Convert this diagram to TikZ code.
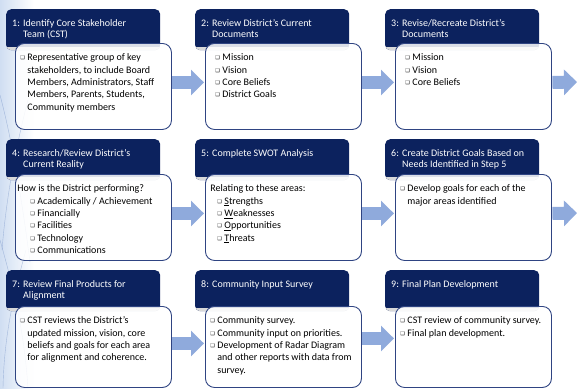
\documentclass[tikz,border=0pt]{standalone}
\usepackage{fontspec}
\setmainfont{Carlito}
\newfontfamily\symfont{DejaVu Sans}
\usetikzlibrary{arrows.meta}

\definecolor{navyhead}{RGB}{12,34,94}
\definecolor{boxline}{RGB}{47,68,130}
\definecolor{flowblue}{RGB}{143,170,220}
\definecolor{stripblue}{RGB}{208,222,242}
\definecolor{stripline}{RGB}{110,140,195}

\newcommand{\bx}{\raisebox{0.9pt}{\symfont\fontsize{5}{5}\selectfont ❑}}
\newcommand{\itm}{\par\noindent\hangindent=7pt\hangafter=1\makebox[7pt][l]{\bx}}
\newcommand{\stp}[1]{\par\noindent\color{white}\leftskip=11pt\hspace*{-11pt}\makebox[11pt][l]{#1}}

\tikzset{
  hdr/.style={anchor=north west, fill=navyhead, rounded corners=5pt,
    inner xsep=6pt, inner ysep=10.3pt, text height=7pt, text depth=13.4pt,
    font=\fontsize{10}{11}\selectfont,
    execute at begin node={\begin{minipage}[t]{142pt}\raggedright},
    execute at end node={\end{minipage}},
    path picture={\fill[gray!30, sharp corners] ([yshift=3pt]path picture bounding box.south west)
      rectangle (path picture bounding box.south east);}},
  body/.style={anchor=north west, draw=boxline, line width=0.9pt, fill=white,
    fill opacity=0.85, text opacity=1, rounded corners=9pt,
    inner xsep=5pt, inner ysep=10.4pt, text height=7pt, text depth=58.2pt,
    font=\fontsize{10}{12.3}\selectfont,
    execute at begin node={\begin{minipage}[t]{146pt}\raggedright},
    execute at end node={\end{minipage}}},
  flow/.style={draw=flowblue, line width=13pt, -{Triangle[length=13pt,width=25pt]},
    shorten >=1pt, shorten <=0.5pt}
}

\begin{document}
\begin{tikzpicture}[x=1pt,y=-1pt]
  \useasboundingbox (0,0) rectangle (577,388);
  \clip (0,0) rectangle (577,388);

  % pale strip on the left edge
  \shade[left color=stripblue, right color=white] (0,0) rectangle (34,388);
  \draw[stripline, line width=0.4pt, opacity=0.5] (0,95) .. controls (12,140) and (22,200) .. (30,262);
  \draw[stripline, line width=0.4pt, opacity=0.5] (28,100) .. controls (15,150) and (6,200) .. (2,250);
  \draw[stripline, line width=0.4pt, opacity=0.5] (0,240) .. controls (14,290) and (24,330) .. (28,388);
  \draw[stripline, line width=0.4pt, opacity=0.5] (26,250) .. controls (12,300) and (4,340) .. (3,388);

  % row 1
  \node[hdr] (h1) at (6,9) {\stp{1:}Identify Core Stakeholder\newline Team (CST)\par};
  \node[body] (b1) at (15,43) {\itm Representative group of key\newline stakeholders, to include Board\newline
    Members, Administrators, Staff\newline Members, Parents, Students,\newline Community members\par};
  \node[hdr] (h2) at (195,9) {\stp{2:}Review District’s Current\newline Documents\par};
  \node[body] (b2) at (205,43) {\leftskip=5pt \itm Mission \itm Vision \itm Core Beliefs \itm District Goals\par};
  \node[hdr] (h3) at (385,9) {\stp{3:}Revise/Recreate District’s\newline Documents\par};
  \node[body] (b3) at (395,43) {\leftskip=5pt \itm Mission \itm Vision \itm Core Beliefs\par};

  % row 2
  \node[hdr] (h4) at (6,139) {\stp{4:}Research/Review District’s\newline Current Reality\par};
  \node[body] (b4) at (15,174) {\noindent\hspace*{-3pt}How is the District performing?\par\leftskip=10pt
    \itm Academically / Achievement \itm Financially \itm Facilities \itm Technology \itm Communications\par};
  \node[hdr] (h5) at (195,139) {\stp{5:}Complete SWOT Analysis\par};
  \node[body] (b5) at (205,174) {\noindent Relating to these areas:\par\leftskip=7pt
    \itm \underline{S}trengths \itm \underline{W}eaknesses \itm \underline{O}pportunities \itm \underline{T}hreats\par};
  \node[hdr] (h6) at (385,139) {\stp{6:}\mbox{Create District Goals Based on}\newline Needs Identified in Step 5\par};
  \node[body] (b6) at (395,174) {\itm Develop goals for each of the\newline major areas identified\par};

  % row 3
  \node[hdr] (h7) at (6,270) {\stp{7:}Review Final Products for\newline Alignment\par};
  \node[body, text depth=53.2pt] (b7) at (15,306) {\itm CST reviews the District’s\newline updated mission, vision, core\newline
    beliefs and goals for each area\newline for alignment and coherence.\par};
  \node[hdr] (h8) at (195,270) {\stp{8:}Community Input Survey\par};
  \node[body, text depth=53.2pt] (b8) at (205,306) {\itm Community survey. \itm Community input on priorities.
    \itm Development of Radar Diagram\newline \mbox{and other reports with data from}\newline survey.\par};
  \node[hdr] (h9) at (385,270) {\stp{9:}Final Plan Development\par};
  \node[body, text depth=53.2pt] (b9) at (395,306) {\itm \mbox{CST review of community survey.} \itm Final plan development.\par};

  % arrows between the steps
  \coordinate (o3) at (578,82);
  \coordinate (o6) at (578,213);
  \draw[flow] ([yshift=4pt]b1.east) -- ([yshift=4pt]b2.west);
  \draw[flow] ([yshift=4pt]b2.east) -- ([yshift=4pt]b3.west);
  \draw[flow] ([yshift=4pt]b3.east) -- (o3);
  \draw[flow] ([yshift=4pt]b4.east) -- ([yshift=4pt]b5.west);
  \draw[flow] ([yshift=4pt]b5.east) -- ([yshift=4pt]b6.west);
  \draw[flow] ([yshift=4pt]b6.east) -- (o6);
  \draw[flow] ([yshift=3.5pt]b7.east) -- ([yshift=3.5pt]b8.west);
  \draw[flow] ([yshift=8.5pt]b8.east) -- ([yshift=8.5pt]b9.west);
\end{tikzpicture}
\end{document}
